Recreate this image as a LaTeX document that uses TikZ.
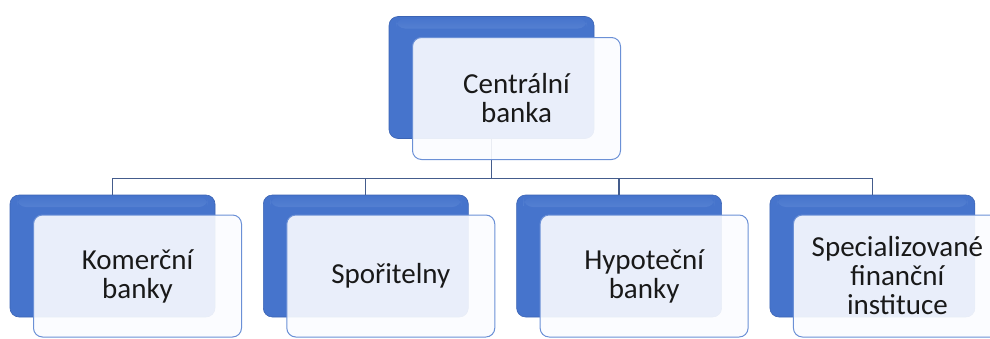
\documentclass[tikz,border=0pt]{standalone}
\usepackage{fontspec}
\setmainfont{Carlito}
\usepackage{tikz}
\usetikzlibrary{positioning}
\definecolor{boxblue}{RGB}{70,116,204}
\definecolor{boxlight}{RGB}{140,174,232}
\definecolor{boxedge}{RGB}{60,100,180}
\definecolor{facefill}{RGB}{251,252,255}
\definecolor{linkcol}{RGB}{68,92,140}
\definecolor{textcol}{RGB}{25,25,25}
\tikzset{back node/.style={rectangle,rounded corners=9pt,draw=boxedge,line width=0.6pt,
    fill=boxblue,minimum width=205pt,minimum height=122pt,inner sep=0pt,
    path picture={\shade[top color=boxblue,bottom color=boxblue,middle color=boxlight]
      ([shift={(7pt,-2pt)}]path picture bounding box.north west) rectangle
      ([shift={(-7pt,-12pt)}]path picture bounding box.north east);}},
  face node/.style={rectangle,rounded corners=9pt,draw=boxblue!80,line width=1pt,
    fill=facefill,fill opacity=0.9,text opacity=1,draw opacity=1,text=textcol,align=center,
    minimum width=208pt,minimum height=122pt,inner sep=2pt,
    font=\fontsize{29}{29}\selectfont},
  link/.style={draw=linkcol,line width=1.3pt},
}

\begin{document}
\begin{tikzpicture}[x=1pt,y=-1pt]
			\useasboundingbox (0,0) rectangle (990,338);
			
			%% back plates
			\node[back node] (cbb) at (491.5,77.5) {};
			\node[back node] (kbb) at (112.5,256) {};
			\node[back node] (spb) at (365.8,256) {};
			\node[back node] (hbb) at (619.1,256) {};
			\node[back node] (sfb) at (872.4,256) {};
			
			%% connectors
			\path[link] (cbb.south) -- ++(0,40) coordinate (split);
			\foreach \n in {kbb,spb,hbb,sfb}
			  \path[link] (split) -| (\n.north);
			
			%% front faces
			\node[face node] (cb) at ([shift={(25,21)}]cbb) {Centrální\\banka};
			\node[face node] (kb) at ([shift={(25,20)}]kbb) {Komerční\\banky};
			\node[face node] (sp) at ([shift={(25,20)}]spb) {Spořitelny};
			\node[face node] (hb) at ([shift={(25,20)}]hbb) {Hypoteční\\banky};
			\node[face node] (sf) at ([shift={(25,20)}]sfb) {Specializované\\finanční\\instituce};
			
\end{tikzpicture}
\end{document}
